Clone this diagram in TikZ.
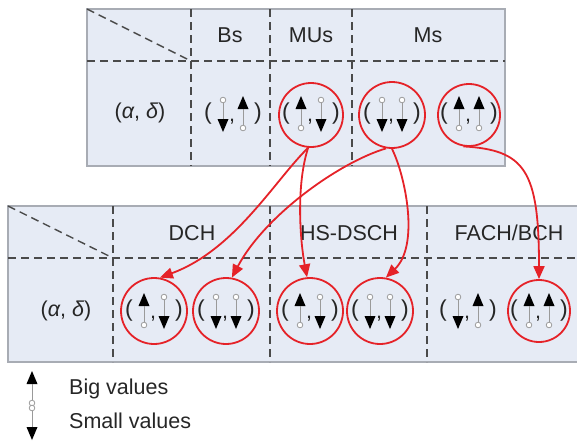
\documentclass[tikz,border=0pt]{standalone}
\usepackage{fontspec}
\setmainfont{Liberation Sans}
\usetikzlibrary{arrows.meta}
\definecolor{tfill}{HTML}{E6EBF5}
\definecolor{tborder}{HTML}{A8ACB4}
\definecolor{dashcol}{HTML}{4A4A4A}
\definecolor{rd}{HTML}{E52228}
\definecolor{txt}{HTML}{262626}
\definecolor{stem}{HTML}{9A9A9A}
\begin{document}
\begin{tikzpicture}[x=1pt,y=-1pt,
  lbl/.style={font=\fontsize{21.5}{24}\selectfont, text=txt, inner sep=0pt},
  dsh/.style={draw=dashcol, line width=1.4pt, dash pattern=on 8pt off 5pt},
  rc/.style={circle, draw=rd, line width=1.8pt, minimum size=#1, inner sep=0pt},
  rarr/.style={draw=rd, line width=1.8pt, -{Triangle[length=13pt,width=11pt]}},
  pics/upg/.style={code={
     \fill[black] (0,-18) -- (5.5,-5) -- (-5.5,-5) -- cycle;
     \draw[stem, line width=0.9pt] (0,-5) -- (0,11);
     \draw[stem, line width=0.8pt, fill=white] (0,14) circle[radius=2.8pt];
  }},
  pics/dng/.style={code={
     \fill[black] (0,18) -- (5.5,5) -- (-5.5,5) -- cycle;
     \draw[stem, line width=0.9pt] (0,5) -- (0,-11);
     \draw[stem, line width=0.8pt, fill=white] (0,-14) circle[radius=2.8pt];
  }},
  pics/pair/.style 2 args={code={
     \node[lbl, font=\fontsize{23}{24}\selectfont] (-l) at (-25,0) {(};
     \pic at (-10,0) {#1};
     \node[lbl] (-c) at (-1,8) {,};
     \pic at (10,0) {#2};
     \node[lbl, font=\fontsize{23}{24}\selectfont] (-r) at (25,0) {)};
  }},
]
\useasboundingbox (0,0) rectangle (577,442);

% ---------- top table ----------
\fill[tfill] (87,9) rectangle (505,166);
\draw[tborder, line width=1.2pt] (87,9) rectangle (505,166);
\draw[dsh] (87,61) -- (505,61);
\draw[dsh] (87,9) -- (191,61);
\foreach \x in {191,270,352} \draw[dsh] (\x,9) -- (\x,166);

\node[lbl, anchor=base] (lbs) at (230,42) {Bs};
\node[lbl, anchor=base] (lmus) at (311,42) {MUs};
\node[lbl, anchor=base] (lms) at (428,42) {Ms};
\node[lbl] (lad1) at (140,113) {(\textit{α}, \textit{δ})};

\pic (pbs) at (233,114) {pair={dng}{upg}};
\pic (pmus) at (311,114) {pair={upg}{dng}};
\pic (pms1) at (392,114) {pair={dng}{dng}};
\pic (pms2) at (469,114) {pair={upg}{upg}};

\node[rc=64pt] (mus) at (311,115) {};
\node[rc=66pt] (ms1) at (392,115) {};
\node[rc=62pt] (ms2) at (469,115) {};

% ---------- bottom table ----------
\fill[tfill] (8,206) rectangle (580,362);
\draw[tborder, line width=1.2pt] (580,206) -- (8,206) -- (8,362) -- (580,362);
\draw[dsh] (8,258) -- (577,258);
\draw[dsh] (8,206) -- (113,258);
\foreach \x in {113,270,427} \draw[dsh] (\x,206) -- (\x,362);

\node[lbl, anchor=base] (ldch) at (192,240) {DCH};
\node[lbl, anchor=base] (lhs) at (349,240) {HS-DSCH};
\node[lbl, anchor=base] (lfach) at (509,240) {FACH/BCH};
\node[lbl] (lad2) at (66,311) {(\textit{α}, \textit{δ})};

\pic (pd1) at (154,311) {pair={upg}{dng}};
\pic (pd2) at (226,311) {pair={dng}{dng}};
\pic (ph1) at (310,311) {pair={upg}{dng}};
\pic (ph2) at (380,311) {pair={dng}{dng}};
\pic (pf1) at (468,311) {pair={dng}{upg}};
\pic (pf2) at (539,311) {pair={upg}{upg}};

\node[rc=66pt] (d1) at (154,311) {};
\node[rc=66pt] (d2) at (226,311) {};
\node[rc=66pt] (h1) at (310,311) {};
\node[rc=66pt] (h2) at (380,311) {};
\node[rc=62pt] (f2) at (539,311) {};

% ---------- arrows ----------
\draw[rarr] (mus.-95) .. controls (275,180) and (235,250) .. (d1.80);
\draw[rarr] (mus.-95) .. controls (296,185) and (300,240) .. (h1.95);
\draw[rarr] (ms1.-100) .. controls (340,162) and (265,215) .. (d2.80);
\draw[rarr] (ms1.-90) .. controls (405,175) and (420,245) .. (h2.80);
\draw[rarr] (ms2.-100) .. controls (525,150) and (539,170) .. (f2.north);

% ---------- legend ----------
\pic (lgu) at (32,389) {upg};
\pic (lgd) at (32,422) {dng};
\node[lbl, anchor=base west] (lbig) at (69,394) {Big values};
\node[lbl, anchor=base west] (lsmall) at (69,428) {Small values};
\end{tikzpicture}
\end{document}
